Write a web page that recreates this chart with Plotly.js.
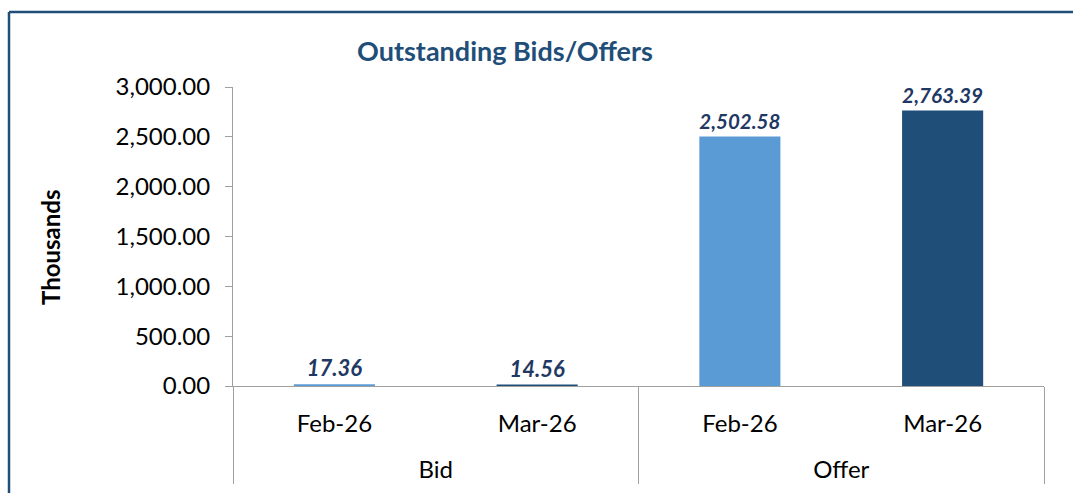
<!DOCTYPE html>
<html>
<head>
<meta charset="utf-8">
<script src="https://cdn.plot.ly/plotly-3.0.1.min.js"></script>
<style>
html,body{margin:0;padding:0;background:#fff;}
#chart{width:1073px;height:493px;}
</style>
</head>
<body>
<div id="chart"></div>
<script>
var groups = ["Bid", "Bid", "Offer", "Offer"];
var months = ["Feb-26", "Mar-26", "Feb-26", "Mar-26"];
var values = [17.36, 14.56, 2502.58, 2763.39];
var yTicks = [0, 500, 1000, 1500, 2000, 2500, 3000];

var monthColors = {"Feb-26": "#5B9BD5", "Mar-26": "#1F4E79"};

var trace = {
  type: "bar",
  x: [groups, months.map(function(m){ return m + "<br>&nbsp;"; })],
  y: values,
  marker: {color: months.map(function(m){ return monthColors[m]; })},
  text: values.map(function(v){ return v.toLocaleString("en-US", {minimumFractionDigits:2, maximumFractionDigits:2}); }),
  textposition: "outside",
  cliponaxis: false,
  textfont: {family: "Lato", size: 22, color: "#1F3864", weight: "bold", style: "italic"},
  hoverinfo: "none"
};

var L = 233, R = 1044, T = 87, B = 386, W = 1073, H = 493;
function px(x){ return (x - L) / (R - L); }
function py(y){ return (B - y) / (B - T); }

var layout = {
  width: W, height: H,
  margin: {l: L, r: W - R, t: T, b: H - B, pad: 0},
  paper_bgcolor: "#fff",
  plot_bgcolor: "#fff",
  showlegend: false,
  bargap: 0.6,
  font: {family: "Lato", size: 24, color: "#000"},
  title: {
    text: "<b>Outstanding Bids/Offers</b>",
    font: {family: "Lato", size: 27, color: "#1F4E79"},
    x: px(505), xref: "paper", xanchor: "center",
    y: 1 - 52 / H, yref: "container", yanchor: "middle"
  },
  xaxis: {
    type: "multicategory",
    showline: true, linecolor: "#A0A0A0", linewidth: 1,
    ticks: "", showgrid: false, zeroline: false,
    showdividers: true, dividercolor: "#A0A0A0", dividerwidth: 1,
    ticklabelstandoff: 16,
    tickfont: {family: "Lato", size: 24, color: "#000"}
  },
  yaxis: {
    range: [0, 3000],
    tickvals: yTicks,
    tickformat: ",.2f",
    showline: true, linecolor: "#A0A0A0", linewidth: 1,
    ticks: "outside", ticklen: 7, tickcolor: "#A0A0A0",
    ticklabelstandoff: 10,
    showgrid: false, zeroline: false,
    tickfont: {family: "Lato", size: 24, color: "#000"}
  },
  annotations: [
    {text: "<b>Thousands</b>", xref: "paper", yref: "paper", x: px(50), y: py(248),
     xanchor: "center", yanchor: "middle", textangle: -90, showarrow: false,
     font: {family: "Lato", size: 24, color: "#000"}}
  ],
  shapes: [
    {type: "line", xref: "paper", yref: "paper", x0: px(9), x1: px(1080), y0: py(12), y1: py(12), line: {color: "#1F4E79", width: 2.5}},
    {type: "line", xref: "paper", yref: "paper", x0: px(9), x1: px(9), y0: py(12), y1: py(500), line: {color: "#1F4E79", width: 2.5}}
  ]
};

Plotly.newPlot("chart", [trace], layout, {displayModeBar: false, staticPlot: true});
</script>
</body>
</html>
